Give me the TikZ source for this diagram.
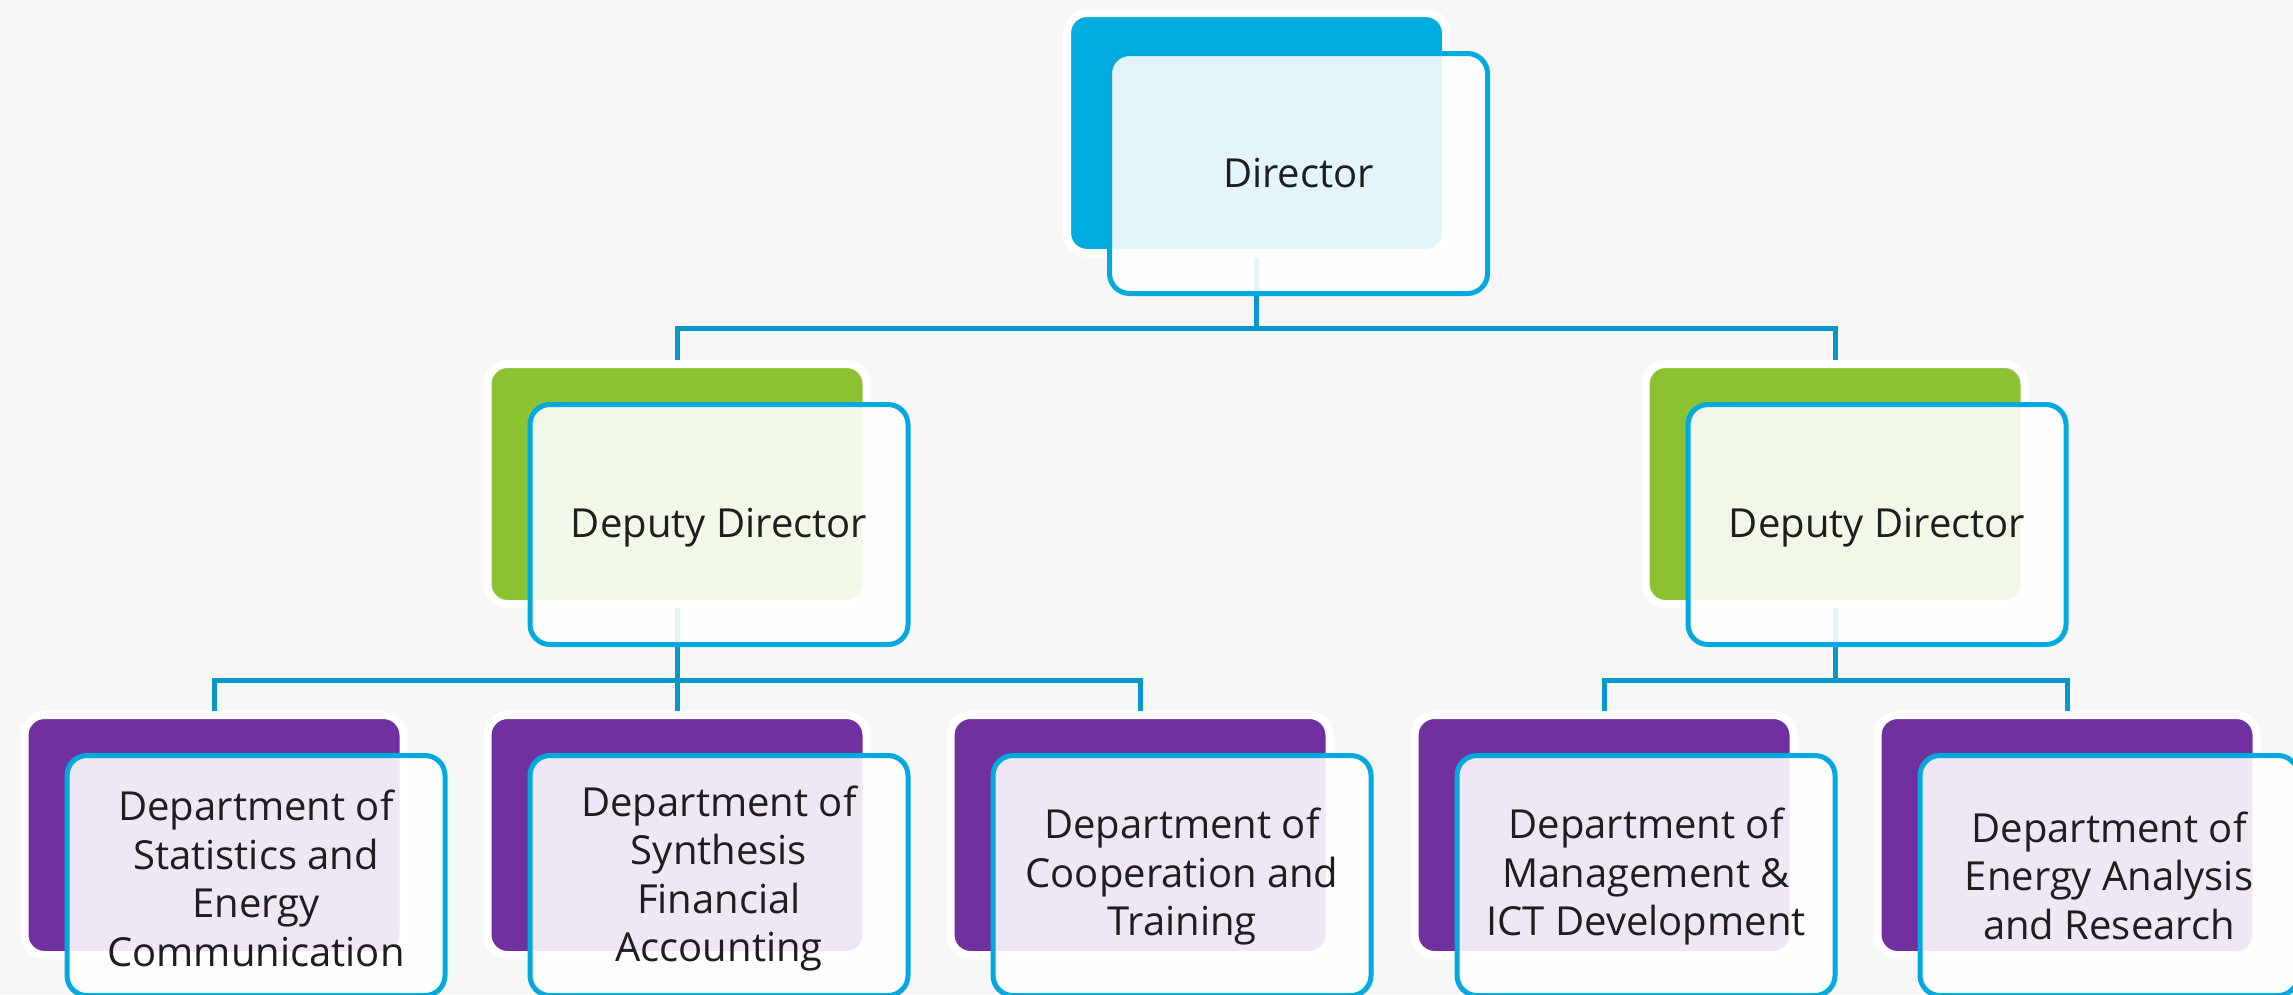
\documentclass[tikz,border=0pt]{standalone}
\usepackage{fontspec}
\setmainfont{Open Sans}
\usetikzlibrary{shadows,calc}
\definecolor{bgc}{HTML}{F7F7F7}
\definecolor{cyanb}{HTML}{00ADE0}
\definecolor{greenb}{HTML}{8AC231}
\definecolor{purpleb}{HTML}{7030A0}
\definecolor{outl}{HTML}{00AADF}
\definecolor{connc}{HTML}{0898C8}
\definecolor{txt}{HTML}{1E1E1E}
\begin{document}
\begin{tikzpicture}[x=1pt,y=-1pt,
  backbox/.style={rectangle, rounded corners=20pt, minimum width=379pt, minimum height=240pt,
    inner sep=0pt, draw=white, line width=8pt,
    drop shadow={shadow xshift=-2pt, shadow yshift=-3pt, opacity=0.15, fill=black}},
  frontbox/.style={rectangle, rounded corners=20pt, minimum width=378pt, minimum height=240pt,
    inner sep=0pt, draw=outl, line width=5pt, fill=white, fill opacity=0.89, text opacity=1},
  fronttext/.style={inner sep=0pt, align=center, text=txt, font=\fontsize{40}{48.6}\selectfont},
  conn/.style={draw=connc, line width=5pt}]
\useasboundingbox (0,0) rectangle (2293,994);
\clip (0,0) rectangle (2293,994);
\fill[bgc] (0,0) rectangle (2293,994);

% back boxes
\node[backbox, fill=cyanb] (dirB) at (1256.5,133) {};
\node[backbox, fill=greenb] (dep1B) at (677,484) {};
\node[backbox, fill=greenb] (dep2B) at (1835,484) {};
\node[backbox, fill=purpleb] (d1B) at (214,835) {};
\node[backbox, fill=purpleb] (d2B) at (677,835) {};
\node[backbox, fill=purpleb] (d3B) at (1140,835) {};
\node[backbox, fill=purpleb] (d4B) at (1604,835) {};
\node[backbox, fill=purpleb] (d5B) at (2067,835) {};

% bus coordinates
\coordinate (bus1) at (0,328);
\coordinate (bus2) at (0,680);

% connectors
\draw[conn] (dirB.south) -- (dirB.south |- bus1) -| (dep1B.north);
\draw[conn] (dirB.south |- bus1) -| (dep2B.north);
\draw[conn] (dep1B.south) -- (dep1B.south |- bus2) -| (d1B.north);
\draw[conn] (dep1B.south |- bus2) -- (d2B.north);
\draw[conn] (dep1B.south |- bus2) -| (d3B.north);
\draw[conn] (dep2B.south) -- (dep2B.south |- bus2) -| (d4B.north);
\draw[conn] (dep2B.south |- bus2) -| (d5B.north);

% front boxes
\node[frontbox] (dirF) at ($(dirB)+(42,40.5)$) {};
\node[frontbox] (dep1F) at ($(dep1B)+(42,40.5)$) {};
\node[frontbox] (dep2F) at ($(dep2B)+(42,40.5)$) {};
\node[frontbox] (d1F) at ($(d1B)+(42,40.5)$) {};
\node[frontbox] (d2F) at ($(d2B)+(42,40.5)$) {};
\node[frontbox] (d3F) at ($(d3B)+(42,40.5)$) {};
\node[frontbox] (d4F) at ($(d4B)+(42,40.5)$) {};
\node[frontbox] (d5F) at ($(d5B)+(42,40.5)$) {};

% texts
\node[fronttext] (dirT) at ($(dirF)+(0,0)$) {Director};
\node[fronttext] (dep1T) at ($(dep1F)+(0,3)$) {Deputy Director};
\node[fronttext] (dep2T) at ($(dep2F)+(0,3)$) {Deputy Director};
\node[fronttext] (d1T) at ($(d1F)+(0,3)$) {Department of\\Statistics and\\Energy\\Communication};
\node[fronttext] (d2T) at ($(d2F)+(0,3)$) {Department of\\Synthesis\\Financial\\Accounting};
\node[fronttext] (d3T) at ($(d3F)+(0,1)$) {Department of\\Cooperation and\\Training};
\node[fronttext] (d4T) at ($(d4F)+(0,1)$) {Department of\\Management \&\\ICT Development};
\node[fronttext] (d5T) at ($(d5F)+(0,0)$) {Department of\\Energy Analysis\\and Research};
\end{tikzpicture}
\end{document}
